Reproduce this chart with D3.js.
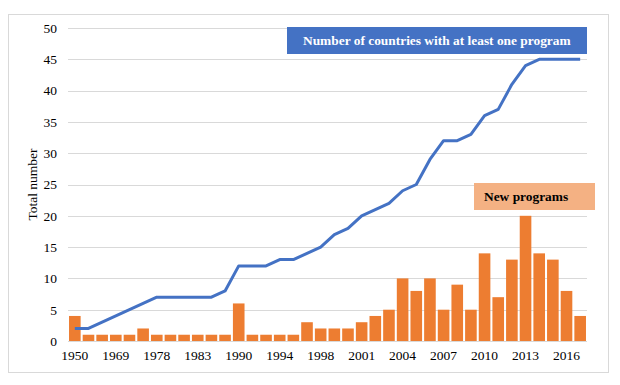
<!DOCTYPE html>
<html>
<head>
<meta charset="utf-8">
<script src="https://cdn.jsdelivr.net/npm/d3@7"></script>
<style>
  body { margin: 0; background: #fff; }
  text { font-family: "Liberation Serif", "Times New Roman", serif; }
</style>
</head>
<body>
<script>
  // years on the axis (only every third one is labelled)
  var years = ["1950", "1960", "1965", "1969", "1972", "1975", "1978", "1979", "1981",
               "1983", "1985", "1988", "1990", "1991", "1993", "1994", "1995", "1997",
               "1998", "1999", "2000", "2001", "2002", "2003", "2004", "2005", "2006",
               "2007", "2008", "2009", "2010", "2011", "2012", "2013", "2014", "2015",
               "2016", "2017"];

  // new programs per year (bars)
  var newPrograms = [4, 1, 1, 1, 1, 2, 1, 1, 1, 1, 1, 1, 6, 1, 1, 1, 1, 3, 2, 2,
                     2, 3, 4, 5, 10, 8, 10, 5, 9, 5, 14, 7, 13, 20, 14, 13, 8, 4];

  // countries with at least one program (line)
  var countries = [2, 2, 3, 4, 5, 6, 7, 7, 7, 7, 7, 8, 12, 12, 12, 13, 13, 14, 15, 17,
                   18, 20, 21, 22, 24, 25, 29, 32, 32, 33, 36, 37, 41, 44, 45, 45, 45, 45];

  var yTicks = [0, 5, 10, 15, 20, 25, 30, 35, 40, 45, 50];

  var width = 620;
  var height = 385;
  var margin = {top: 28, right: 33, bottom: 44, left: 68};

  var svg = d3.select("body")
              .append("svg")
              .attr("width", width)
              .attr("height", height);

  // light grey frame round the chart
  svg.append("rect")
     .attr("x", 8.5)
     .attr("y", 14.5)
     .attr("width", 600)
     .attr("height", 358)
     .attr("fill", "none")
     .attr("stroke", "#d9d9d9");

  var xScale = d3.scaleBand()
                 .domain(years)
                 .range([margin.left, width - margin.right])
                 .paddingInner(0.15)
                 .paddingOuter(0.075);

  var yScale = d3.scaleLinear()
                 .domain([0, 50])
                 .range([height - margin.bottom, margin.top]);

  // horizontal grid lines
  svg.append("g")
     .selectAll("line")
     .data(yTicks)
     .enter()
     .append("line")
     .attr("x1", margin.left)
     .attr("x2", width - margin.right)
     .attr("y1", function(d) { return Math.round(yScale(d)) + 0.5; })
     .attr("y2", function(d) { return Math.round(yScale(d)) + 0.5; })
     .attr("stroke", "#d9d9d9");

  // y axis labels
  var yAxis = d3.axisLeft(yScale)
                .tickValues(yTicks)
                .tickSize(0)
                .tickPadding(11);

  svg.append("g")
     .attr("transform", "translate(" + margin.left + ",0)")
     .call(yAxis)
     .call(function(g) { g.select(".domain").remove(); })
     .selectAll("text")
     .style("font-size", "13.5px")
     .style("font-family", "Liberation Serif, serif")
     .attr("fill", "#000");

  // x axis labels, every third year
  var xAxis = d3.axisBottom(xScale)
                .tickValues(years.filter(function(d, i) { return i % 3 === 0; }))
                .tickSize(0)
                .tickPadding(9);

  svg.append("g")
     .attr("transform", "translate(0," + (height - margin.bottom) + ")")
     .call(xAxis)
     .call(function(g) { g.select(".domain").remove(); })
     .selectAll("text")
     .style("font-size", "13.5px")
     .style("font-family", "Liberation Serif, serif")
     .attr("fill", "#000");

  // orange bars for new programs
  svg.selectAll("rect.bar")
     .data(newPrograms)
     .enter()
     .append("rect")
     .attr("class", "bar")
     .attr("x", function(d, i) { return xScale(years[i]); })
     .attr("width", xScale.bandwidth())
     .attr("y", function(d) { return yScale(d); })
     .attr("height", function(d) { return yScale(0) - yScale(d); })
     .attr("fill", "#ed7d31");

  // blue line for countries
  var line = d3.line()
               .x(function(d, i) { return xScale(years[i]) + xScale.bandwidth() / 2; })
               .y(function(d) { return yScale(d); });

  svg.append("path")
     .datum(countries)
     .attr("d", line)
     .attr("fill", "none")
     .attr("stroke", "#4472c4")
     .attr("stroke-width", 3)
     .attr("stroke-linejoin", "round");

  // y axis title
  svg.append("text")
     .attr("transform", "translate(37," + ((margin.top + height - margin.bottom) / 2) + ")rotate(-90)")
     .attr("text-anchor", "middle")
     .style("font-size", "13.5px")
     .text("Total number");

  // label box for the line
  svg.append("rect")
     .attr("x", 287)
     .attr("y", 27)
     .attr("width", 300)
     .attr("height", 27)
     .attr("fill", "#4472c4");

  svg.append("text")
     .attr("x", 303)
     .attr("y", 45)
     .attr("fill", "#fff")
     .style("font-size", "13.4px")
     .style("font-weight", "bold")
     .text("Number of countries with at least one program");

  // label box for the bars
  svg.append("rect")
     .attr("x", 474)
     .attr("y", 183)
     .attr("width", 121)
     .attr("height", 27)
     .attr("fill", "#f4b183");

  svg.append("text")
     .attr("x", 484)
     .attr("y", 201)
     .attr("fill", "#000")
     .style("font-size", "13.4px")
     .style("font-weight", "bold")
     .text("New programs");
</script>
</body>
</html>
